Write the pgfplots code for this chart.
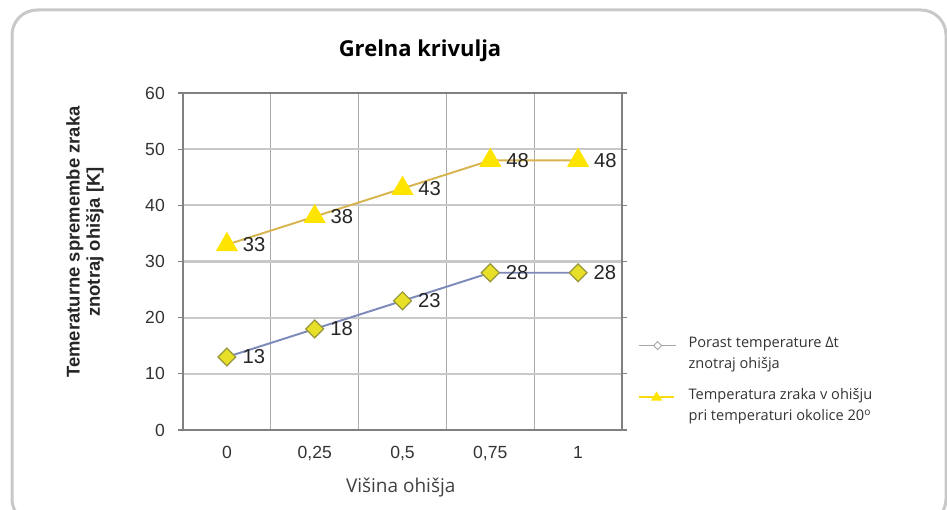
\documentclass[border=0pt]{standalone}
\usepackage{fontspec}
\setmainfont{Liberation Sans}
\newfontfamily\opensans{Open Sans}
\usepackage{pgfplots}
\pgfplotsset{compat=1.18}

\definecolor{lineA}{RGB}{125,138,185}
\definecolor{markA}{RGB}{232,224,40}
\definecolor{edgeA}{RGB}{150,150,60}
\definecolor{lineB}{RGB}{215,180,80}
\definecolor{markB}{RGB}{255,228,0}
\definecolor{gridc}{RGB}{200,200,200}
\definecolor{axisc}{RGB}{128,128,128}
\definecolor{framec}{RGB}{200,200,200}

\begin{document}
\begin{tikzpicture}
\useasboundingbox (0,0) rectangle (18.94cm,10.18cm);
\draw[framec, line width=0.06cm, rounded corners=0.5cm]
  (0.24cm,-0.3cm) rectangle (18.92cm,9.98cm);
\begin{axis}[
  at={(3.66cm,1.58cm)}, anchor=south west,
  scale only axis, width=8.78cm, height=6.74cm,
  xmin=-0.5, xmax=4.5, ymin=0, ymax=60,
  xtick={0,1,2,3,4},
  xticklabels={0,{0,25},{0,5},{0,75},1},
  minor xtick={0.5,1.5,2.5,3.5},
  ytick={0,10,20,30,40,50,60},
  xminorgrids=true, ymajorgrids=true,
  major grid style={gridc, line width=1.2pt},
  minor grid style={gridc!85!black, line width=0.6pt},
  axis line style={axisc, line width=0.9pt},
  xtick style={draw=none},
  ytick style={axisc, line width=0.6pt},
  tick align=outside, major tick length=0.1cm, minor tick length=0pt,
  /pgf/number format/assume math mode=true,
  tick label style={font=\fontsize{10}{12}\selectfont, text=black!80},
  xticklabel style={yshift=-0.1cm},
  yticklabel style={xshift=-0.14cm},
  title={\opensans\bfseries Grelna krivulja},
  title style={at={(axis description cs:0.54,1.095)}, anchor=center,
    font=\fontsize{12.5}{15}\selectfont},
  xlabel={\opensans Višina ohišja},
  xlabel style={at={(axis description cs:0.496,-0.172)}, anchor=center,
    font=\fontsize{10.8}{13}\selectfont, text=black!75},
  ylabel={\bfseries Temeraturne spremembe zraka\\ \bfseries znotraj ohišja [K]},
  ylabel style={at={(axis description cs:-0.2232,0.558)}, anchor=center,
    align=center, font=\fontsize{10.5}{11.5}\selectfont, text=black!85},
  nodes near coords,
  nodes near coords style={anchor=west, inner sep=0pt, xshift=0.3cm,
    font=\fontsize{11.5}{14}\selectfont, text=black!85},
  legend style={at={(axis description cs:1,0.148)}, anchor=west,
    xshift=0.32cm, draw=none, fill=none, inner sep=0pt,
    font=\opensans\fontsize{8.3}{12}\selectfont, text=black!80,
    cells={align=left, anchor=west}, row sep=0.2cm},
  legend cell align=left,
]
\addplot[lineA, line width=1.1pt, mark=square*,
  mark options={rotate=45, fill=markA, draw=edgeA, line width=0.7pt},
  mark size=3.6pt,
  legend image code/.code={
    \draw[gray!70, line width=0.7pt] (0cm,0.17cm) -- (0.74cm,0.17cm);
    \draw[gray!70, fill=white, line width=0.5pt]
      (0.29cm,0.17cm) -- (0.37cm,0.25cm) -- (0.45cm,0.17cm)
      -- (0.37cm,0.09cm) -- cycle;
    \path (0.9cm,0.17cm);
  }]
  coordinates {(0,13) (1,18) (2,23) (3,28) (4,28)};
\addlegendentry{Porast temperature Δt\\znotraj ohišja}
\addplot[lineB, line width=1.1pt, mark=triangle*,
  mark options={fill=markB, draw=markB},
  mark size=6.2pt,
  legend image code/.code={
    \draw[markB!80!lineB, line width=0.9pt] (0cm,0.17cm) -- (0.7cm,0.17cm);
    \fill[markB] (0.35cm,0.25cm) -- (0.27cm,0.12cm) -- (0.43cm,0.12cm) -- cycle;
    \path (0.9cm,0.17cm);
  }]
  coordinates {(0,33) (1,38) (2,43) (3,48) (4,48)};
\addlegendentry{Temperatura zraka v ohišju\\pri temperaturi okolice 20\textsuperscript{o}}
\end{axis}
\end{tikzpicture}
\end{document}
